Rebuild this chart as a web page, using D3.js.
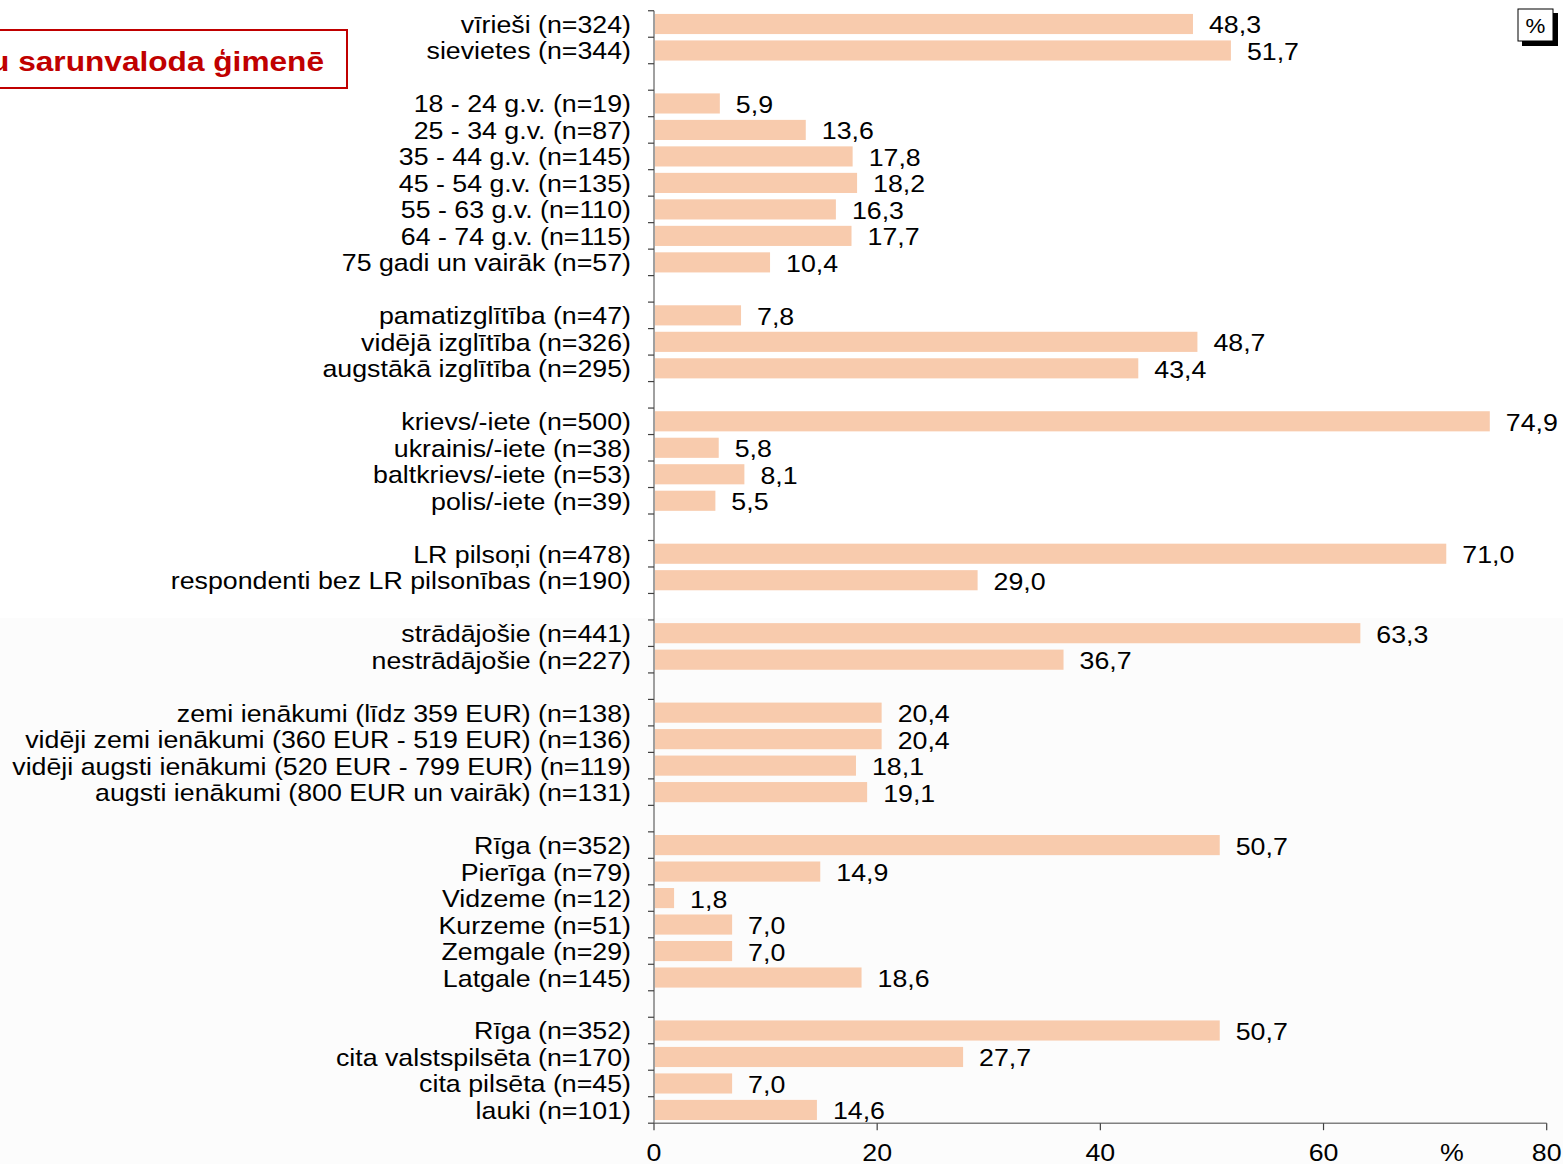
<!DOCTYPE html>
<html>
<head>
<meta charset="utf-8">
<script src="https://cdn.jsdelivr.net/npm/d3@7/dist/d3.min.js"></script>
<style>
  html, body { margin: 0; padding: 0; background: #ffffff; }
  svg { display: block; }
  text { font-family: "Liberation Sans", Arial, sans-serif; }
</style>
</head>
<body>
<div id="chart"></div>
<script>
const categories = [
  "vīrieši (n=324)", "sievietes (n=344)",
  "18 - 24 g.v. (n=19)", "25 - 34 g.v. (n=87)", "35 - 44 g.v. (n=145)", "45 - 54 g.v. (n=135)", "55 - 63 g.v. (n=110)", "64 - 74 g.v. (n=115)", "75 gadi un vairāk (n=57)",
  "pamatizglītība (n=47)", "vidējā izglītība (n=326)", "augstākā izglītība (n=295)",
  "krievs/-iete (n=500)", "ukrainis/-iete (n=38)", "baltkrievs/-iete (n=53)", "polis/-iete (n=39)",
  "LR pilsoņi (n=478)", "respondenti bez LR pilsonības (n=190)",
  "strādājošie (n=441)", "nestrādājošie (n=227)",
  "zemi ienākumi (līdz 359 EUR) (n=138)", "vidēji zemi ienākumi (360 EUR - 519 EUR) (n=136)", "vidēji augsti ienākumi (520 EUR - 799 EUR) (n=119)", "augsti ienākumi (800 EUR un vairāk) (n=131)",
  "Rīga (n=352)", "Pierīga (n=79)", "Vidzeme (n=12)", "Kurzeme (n=51)", "Zemgale (n=29)", "Latgale (n=145)",
  "Rīga (n=352)", "cita valstspilsēta (n=170)", "cita pilsēta (n=45)", "lauki (n=101)"
];
const values = [
  48.3, 51.7,
  5.9, 13.6, 17.8, 18.2, 16.3, 17.7, 10.4,
  7.8, 48.7, 43.4,
  74.9, 5.8, 8.1, 5.5,
  71.0, 29.0,
  63.3, 36.7,
  20.4, 20.4, 18.1, 19.1,
  50.7, 14.9, 1.8, 7.0, 7.0, 18.6,
  50.7, 27.7, 7.0, 14.6
];
const groupSizes = [2, 7, 3, 4, 2, 2, 4, 6, 4];
const xTicks = [0, 20, 40, 60, 80];
const titleText = "u sarunvaloda ģimenē";
const unitText = "%";

const W = 1563, H = 1164;
const SX = 1.115; // horizontal text stretch seen in the reference
const svg = d3.select("#chart").append("svg").attr("width", W).attr("height", H);

function stretchedText(parent, px, py, str, opts) {
  const sx = opts.sx || SX;
  const g = parent.append("g").attr("transform", `translate(${px},${py}) scale(${sx},1)`);
  const t = g.append("text").attr("x", 0).attr("y", 0)
    .attr("text-anchor", opts.anchor || "start")
    .attr("font-size", opts.size || 24)
    .attr("fill", opts.fill || "#000")
    .text(str);
  if (opts.weight) t.attr("font-weight", opts.weight);
  return t;
}

// slots (with empty gap slots between groups)
const slots = [];
let idx = 0;
groupSizes.forEach((g, gi) => {
  for (let i = 0; i < g; i++) { slots.push({ key: "c" + idx, i: idx }); idx++; }
  if (gi < groupSizes.length - 1) slots.push({ key: "gap" + gi, i: -1 });
});

const x = d3.scaleLinear().domain([0, 80]).range([654, 1546.7]);
const y = d3.scaleBand().domain(slots.map(s => s.key)).range([10.75, 1123.2]).paddingInner(0.24).paddingOuter(0.12);

// subtle lower background
svg.append("rect").attr("x", 0).attr("y", 618).attr("width", W).attr("height", H - 618).attr("fill", "#fcfcfc");

const data = categories.map((c, i) => ({ label: c, value: values[i], key: "c" + i }));

// bars
svg.append("g").selectAll("rect").data(data).join("rect")
  .attr("x", x(0) + 1)
  .attr("y", d => y(d.key))
  .attr("width", d => x(d.value) - x(0) - 1)
  .attr("height", y.bandwidth())
  .attr("fill", "#f8cbad");

// y axis line + ticks at slot boundaries
const step = y.step();
const y0 = 10.75;
const axisG = svg.append("g");
axisG.append("line").attr("x1", x(0)).attr("x2", x(0)).attr("y1", y0).attr("y2", 1123.2)
  .attr("stroke", "#808080").attr("stroke-width", 1.5);
axisG.selectAll("line.tk").data(d3.range(slots.length + 1)).join("line")
  .attr("class", "tk")
  .attr("x1", x(0) - 6).attr("x2", x(0))
  .attr("y1", d => y0 + d * step).attr("y2", d => y0 + d * step)
  .attr("stroke", "#404040").attr("stroke-width", 1.2);

// category labels
const catG = svg.append("g");
data.forEach(d => {
  stretchedText(catG, 631, y(d.key) + y.bandwidth() / 2 + 9, d.label, { anchor: "end", size: 24 });
});

// value labels
const fmt = v => d3.format(".1f")(v).replace(".", ",");
const valG = svg.append("g");
data.forEach(d => {
  stretchedText(valG, x(d.value) + 16, y(d.key) + y.bandwidth() / 2 + 9.5, fmt(d.value), { size: 24 });
});

// x axis
const xAxisY = 1123.2;
const xg = svg.append("g");
xg.append("line").attr("x1", x(0)).attr("x2", x(80)).attr("y1", xAxisY).attr("y2", xAxisY)
  .attr("stroke", "#808080").attr("stroke-width", 1.5);
xg.selectAll("line.xt").data(xTicks).join("line").attr("class", "xt")
  .attr("x1", d => x(d)).attr("x2", d => x(d)).attr("y1", xAxisY).attr("y2", xAxisY + 7)
  .attr("stroke", "#404040").attr("stroke-width", 1.2);
xTicks.forEach(t => stretchedText(xg, x(t), 1161, String(t), { anchor: "middle", size: 24 }));
stretchedText(xg, 1452, 1161, unitText, { anchor: "middle", size: 24 });

// title box (clipped at left)
svg.append("rect").attr("x", -10).attr("y", 30).attr("width", 357).attr("height", 58)
  .attr("fill", "#ffffff").attr("stroke", "#c00000").attr("stroke-width", 2);
stretchedText(svg, 324, 71, titleText, { anchor: "end", size: 28, weight: "bold", fill: "#c00000", sx: 1.13 });

// % box with shadow
svg.append("rect").attr("x", 1522).attr("y", 13).attr("width", 36).attr("height", 33).attr("fill", "#000");
svg.append("rect").attr("x", 1518).attr("y", 9).attr("width", 35).attr("height", 32)
  .attr("fill", "#fff").attr("stroke", "#000").attr("stroke-width", 1);
stretchedText(svg, 1535.5, 33, unitText, { anchor: "middle", size: 20 });
</script>
</body>
</html>
